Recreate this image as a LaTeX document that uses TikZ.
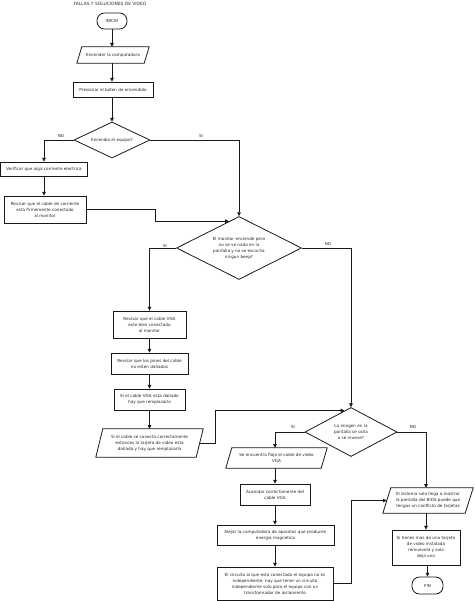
\documentclass[tikz,border=0pt]{standalone}
\usepackage{fontspec}
\setmainfont{DejaVu Sans}
\usetikzlibrary{arrows.meta,shapes.geometric,calc}
\newcommand\drawpara[2]{\draw[ln] ([xshift=#2pt]#1.north west) -- (#1.north east) -- ([xshift=-#2pt]#1.south east) -- (#1.south west) -- cycle;}
\begin{document}
\begin{tikzpicture}[x=1pt,y=-1pt,
 ln/.style={line width=0.8pt,draw=black!90},
 arr/.style={ln,-{Triangle[length=3.8pt,width=3.6pt]}},
 txt/.style={font=\fontsize{4.15}{6}\selectfont,align=center,inner sep=0pt,text=black!85},
 lbl/.style={font=\fontsize{4.1}{5}\selectfont,inner sep=0pt,text=black!85},
 box/.style 2 args={ln,rectangle,txt,minimum width=#1pt,minimum height=#2pt},
 parabox/.style 2 args={rectangle,txt,minimum width=#1pt,minimum height=#2pt},
 term/.style 2 args={ln,rectangle,rounded corners=7.5pt,txt,minimum width=#1pt,minimum height=#2pt},
 dia/.style 2 args={ln,diamond,inner sep=0pt,minimum width=#1pt,minimum height=#2pt}
]
\useasboundingbox (0,0) rectangle (474,601);
\node[font=\fontsize{4.4}{5}\selectfont,inner sep=0pt,text=black!85] (title) at (110,3.5) {FALLAS Y SOLUCIONES DE VIDEO};

\node[term={30}{16}] (inicio) at (112,21) {INICIO};
\node[parabox={72}{16}] (encender) at (113,55) {Encender la computadora};
\drawpara{encender}{5}
\node[box={80}{15}] (presionar) at (113,89.5) {Presionar el boton de encendido};
\node[dia={76}{36}] (d1) at (112,140) {};
\node[txt] (d1t) at (d1) {Encendio el equipo?};
\node[box={86.5}{14}] (verificar) at (44,169) {Verificar que aiga corriente electrica};
\node[box={82}{27}] (revisar1) at (45,209.5) {Revisar que el cable de corriente\\esta firmemente conectado\\al monitor};

\node[dia={125}{63}] (d2) at (239,248) {};
\node[txt] (d2t) at (d2) {El monitor enciende pero\\no se ve nada en la\\pantalla y no se escucha\\ningun beep?};

\node[box={73}{27}] (vga1) at (149.5,324.5) {Revisar que el cable VGA\\este bien conectado\\al monitor};
\node[box={77}{21}] (pines) at (149.5,363.5) {Revisar que los pines del cable\\no esten dañados};
\node[box={71}{21}] (danado) at (149.5,399.5) {Si el cable VGA esta dañado\\hay que remplazarlo};
\node[parabox={107}{28}] (tarjeta) at (149.5,443) {Si el cable se conecto correctamente\\entonces la tarjeta de video esta\\dañada y hay que remplazarla};
\drawpara{tarjeta}{7}

\node[dia={92}{49}] (d3) at (351,432) {};
\node[txt] (d3t) at (d3) {La imagen en la\\pantalla se ocila\\o se mueve?};

\node[parabox={101}{20}] (flojo) at (276.5,458) {Se encuentra flojo el cable de video\\VGA};
\drawpara{flojo}{6}
\node[box={70}{21}] (acomodar) at (275,494.5) {Acomdar correctamente del\\cable VGA};
\node[box={117}{20}] (alejar) at (275.5,535) {Alejar la computadora de aparatos que producen\\energia magnetica};
\node[box={116}{33}] (circuito) at (275,583.5) {El circuito al que esta conectado el equipo no es\\independiente, hay que tener un circuito\\independiente solo para el equipo con un\\transformador de aislamiento};

\node[parabox={90}{25}] (bios) at (428,500.5) {El sistema solo llega a mostrar\\la pantalla del BIOS puede que\\tengas un conflicto de tarjetas};
\drawpara{bios}{8}
\node[box={68}{35}] (remueve) at (426,547.5) {Si tienes mas de una tarjeta\\de video instalada\\remuevela y solo\\deja una};
\node[term={31}{17}] (fin) at (427.5,585.5) {FIN};

% labels
\node[lbl] (noA) at (61,136) {NO};
\node[lbl] (siA) at (201,136) {SI};
\node[lbl] (siB) at (165,246) {SI};
\node[lbl] (noB) at (328,244) {NO};
\node[lbl] (siC) at (293,427) {SI};
\node[lbl] (noC) at (413,427) {NO};

% helper points on diamond edges
\coordinate (e2) at ($(d2.west)!0.84!(d2.north)$);
\coordinate (e3) at ($(d3.west)!0.86!(d3.north)$);

% connectors
\draw[arr] (inicio.south) -- (inicio.south |- encender.north);
\draw[arr] (encender.south -| inicio.south) -- (inicio.south |- presionar.north);
\draw[arr] (presionar.south -| d1.north) -- (d1.north);
\draw[arr] (d1.west) -| (verificar.north);
\draw[arr] (d1.east) -| (d2.north);
\draw[arr] (verificar.south) -- (verificar.south |- revisar1.north);
\draw[arr] (revisar1.east) -- ++(69,0) |- (e2);
\draw[arr] (d2.west) -| (vga1.north);
\draw[arr] (d2.east) -| (d3.north);
\draw[arr] (vga1.south) -- (pines.north);
\draw[arr] (pines.south) -- (danado.north);
\draw[arr] (danado.south) -- (tarjeta.north);
\draw[arr] ([xshift=-3.5pt]tarjeta.east) -- ++(16,0) |- (e3);
\draw[arr] (d3.west) -| (flojo.north -| acomodar.north);
\draw[arr] (flojo.south -| acomodar.north) -- (acomodar.north);
\draw[arr] (acomodar.south) -- (acomodar.south |- alejar.north);
\draw[arr] (alejar.south -| acomodar.south) -- (acomodar.south |- circuito.north);
\draw[arr] (circuito.east) -- ++(18,0) |- ([xshift=4pt]bios.west);
\draw[arr] (d3.east) -| (bios.north -| remueve.north);
\draw[arr] (bios.south -| remueve.north) -- (remueve.north);
\draw[arr] (remueve.south -| fin.north) -- (fin.north);
\end{tikzpicture}
\end{document}
